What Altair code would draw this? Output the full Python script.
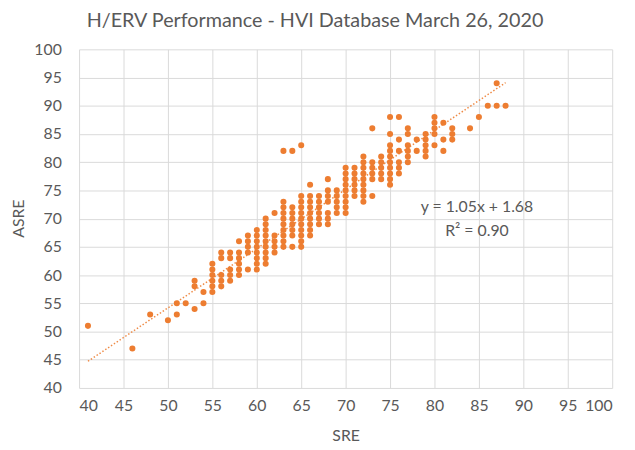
import altair as alt
import pandas as pd

chart_title = "H/ERV Performance - HVI Database March 26, 2020"
x_title = "SRE"
y_title = "ASRE"

# SRE value of each column of points, and the ASRE values found in that column
sre_columns = [41, 46, 48, 50, 51, 52, 53, 54, 55, 56, 57, 58, 59, 60, 61, 62,
               63, 64, 65, 66, 67, 68, 69, 70, 71, 72, 73, 74, 75, 76, 77, 78,
               79, 80, 81, 82, 84, 85, 86, 87, 88]
asre_columns = [
    [51], [47], [53], [52], [53, 55], [55], [54, 58, 59], [55, 57],
    [57, 58, 59, 60, 61, 62],
    [58, 59, 60, 63, 64],
    [59, 60, 61, 63, 64],
    [60, 61, 62, 63, 64, 66],
    [61, 64, 65, 66, 67],
    [61, 62, 63, 64, 65, 66, 67, 68],
    [62, 63, 64, 65, 66, 67, 68, 69, 70],
    [64, 65, 66, 67, 71],
    [65, 66, 67, 68, 69, 70, 71, 72, 73, 82],
    [65, 67, 68, 69, 70, 71, 72, 82],
    [65, 66, 67, 68, 69, 70, 71, 72, 73, 74, 83],
    [67, 68, 69, 70, 71, 72, 73, 74, 76],
    [69, 70, 71, 72, 73, 74],
    [69, 70, 71, 73, 74, 75, 77],
    [71, 72, 73, 74, 75],
    [71, 72, 73, 74, 75, 76, 77, 78, 79],
    [74, 75, 76, 77, 78, 79],
    [73, 74, 75, 76, 77, 78, 79, 80, 81],
    [74, 77, 78, 79, 80, 86],
    [77, 78, 79, 80, 81],
    [76, 77, 78, 79, 80, 81, 82, 83, 85, 88],
    [78, 79, 80, 82, 84, 88],
    [80, 81, 82, 83, 85, 86],
    [82, 84],
    [81, 82, 83, 84, 85],
    [83, 85, 86, 87, 88],
    [82, 84, 87],
    [84, 85, 86],
    [86], [88], [90], [90, 94], [90],
]

# Excel linear trendline shown in the chart
trend_slope = 1.05
trend_intercept = 1.68
trend_x = [41, 88]
equation_lines = ["y = 1.05x + 1.68", "R\u00b2 = 0.90"]

x_ticks = list(range(40, 101, 5))
y_ticks = list(range(40, 101, 5))

rows = [(s, a) for s, col in zip(sre_columns, asre_columns) for a in col]
df = pd.DataFrame(rows, columns=["SRE", "ASRE"])

orange = "#ED7D31"
grey = "#595959"
grid = "#D9D9D9"
font = "Lato"

xscale = alt.Scale(domain=[40, 100], nice=False, zero=False)
yscale = alt.Scale(domain=[40, 100], nice=False, zero=False)

x_axis = alt.Axis(values=x_ticks, title=x_title, grid=True, gridColor=grid,
                  domain=False, ticks=False, labelPadding=10, labelOverlap=False,
                  labelColor=grey, labelFont=font, labelFontSize=16,
                  titleColor=grey, titleFont=font, titleFontSize=16,
                  titleFontWeight="normal", titleY=48, titleBaseline="middle")
y_axis = alt.Axis(values=y_ticks, title=y_title, grid=True, gridColor=grid,
                  domain=False, ticks=False, labelPadding=18, labelOverlap=False,
                  labelColor=grey, labelFont=font, labelFontSize=16,
                  titleColor=grey, titleFont=font, titleFontSize=16,
                  titleFontWeight="normal", titleX=-61, titleY=171,
                  titleAngle=270, titleAlign="center", titleBaseline="middle")

points = alt.Chart(df).mark_circle(size=38, color=orange, opacity=1).encode(
    x=alt.X("SRE:Q", scale=xscale, axis=x_axis),
    y=alt.Y("ASRE:Q", scale=yscale, axis=y_axis),
)

trend = alt.Chart(pd.DataFrame({"SRE": trend_x})).transform_calculate(
    ASRE=f"{trend_slope} * datum.SRE + {trend_intercept}"
).mark_line(color=orange, strokeDash=[1.5, 2], strokeWidth=1.5, opacity=0.9).encode(
    x=alt.X("SRE:Q", scale=xscale, axis=x_axis),
    y=alt.Y("ASRE:Q", scale=yscale, axis=y_axis),
)

eq1 = alt.Chart(pd.DataFrame({"t": [equation_lines[0]]})).mark_text(
    font=font, fontSize=16, color=grey, align="center", baseline="alphabetic"
).encode(text="t:N", x=alt.value(403), y=alt.value(165))

eq2 = alt.Chart(pd.DataFrame({"t": [equation_lines[1]]})).mark_text(
    font=font, fontSize=16, color=grey, align="center", baseline="alphabetic"
).encode(text="t:N", x=alt.value(403), y=alt.value(189))

chart = alt.layer(points, trend, eq1, eq2).properties(
    width=540, height=343,
    title=alt.TitleParams(chart_title, font=font, fontSize=20, fontWeight="normal",
                          color=grey, anchor="middle", dx=-31, offset=11),
    autosize=alt.AutoSizeParams(type="none"),
    padding={"left": 72, "top": 39, "right": 15, "bottom": 60},
).configure_view(stroke=None)

chart.save("out.html", embed_options={"renderer": "svg", "actions": False})
